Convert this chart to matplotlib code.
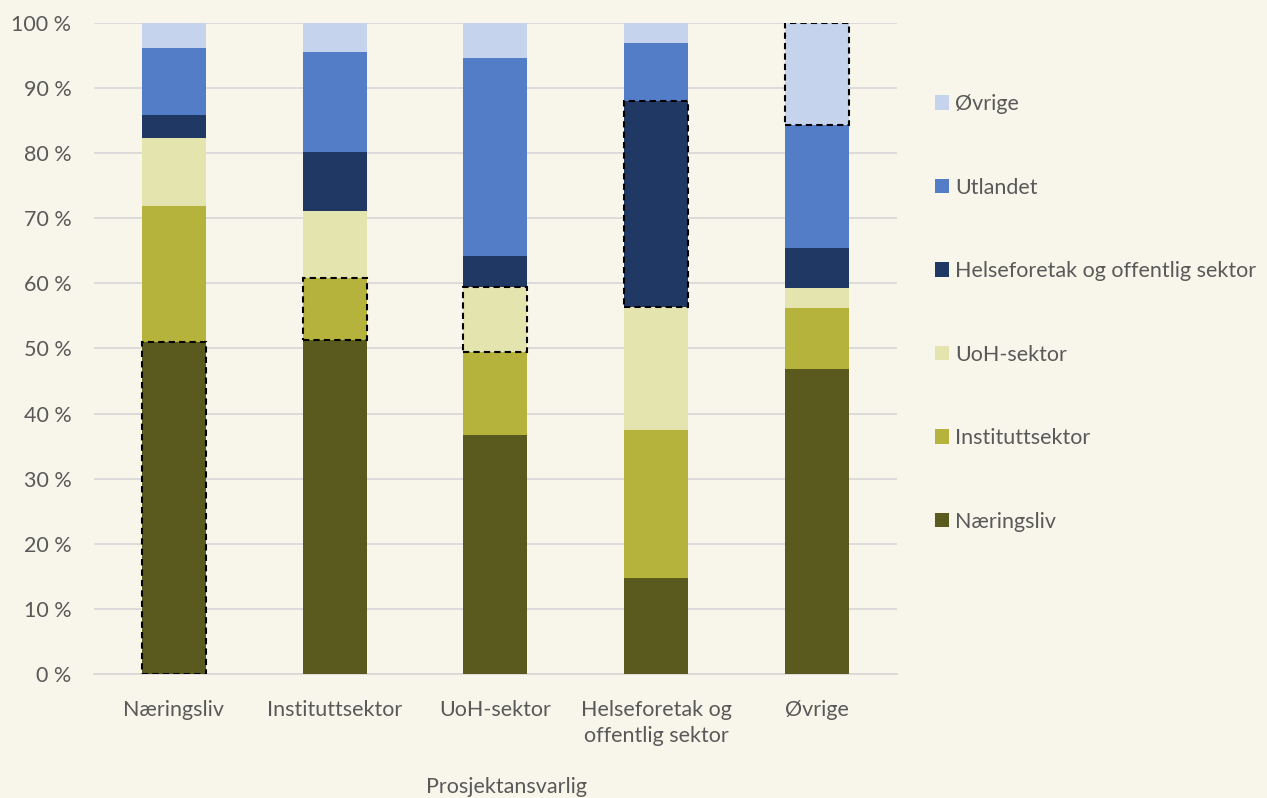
import numpy as np
import matplotlib.pyplot as plt
from matplotlib.patches import Patch

plt.rcParams['font.family'] = ['Lato', 'DejaVu Sans']

# data (share in %)
categories = ['Næringsliv', 'Instituttsektor', 'UoH-sektor',
              'Helseforetak og\noffentlig sektor', 'Øvrige']
series = ['Næringsliv', 'Instituttsektor', 'UoH-sektor',
          'Helseforetak og offentlig sektor', 'Utlandet', 'Øvrige']
naeringsliv = [51.0, 51.3, 36.7, 14.8, 46.8]
institutt = [20.9, 9.6, 12.7, 22.7, 9.4]
uoh = [10.5, 10.2, 10.0, 18.8, 3.1]
helse = [3.5, 9.1, 4.8, 31.7, 6.2]
utlandet = [10.2, 15.3, 30.4, 8.9, 18.8]
ovrige = [3.9, 4.5, 5.4, 3.1, 15.7]
# which segment in each bar is framed (own sector)
framed = [0, 1, 2, 3, 5]

colors = ['#5B5A1E', '#B6B33C', '#E4E4AE', '#203864', '#547DC8', '#C5D3EC']
bg = '#F8F6EA'
txt = '#595959'
fs = 15.5

fig = plt.figure(figsize=(12.67, 7.98), dpi=100, facecolor=bg)
ax = fig.add_axes([0.0739, 0.1554, 0.6341, 0.8158], facecolor=bg)

x = np.arange(len(categories))
vals = [naeringsliv, institutt, uoh, helse, utlandet, ovrige]
bottom = np.zeros(len(categories))
for k, v in enumerate(vals):
    v = np.array(v)
    bars = ax.bar(x, v, 0.40, bottom=bottom, color=colors[k], zorder=3,
                  edgecolor='none')
    for i, b in enumerate(bars):
        if framed[i] == k:
            b.set_edgecolor('black')
            b.set_linewidth(1.5)
            b.set_linestyle((0, (3, 2)))
            b.set_zorder(4)
    bottom += v

ax.set_xlim(-0.5, 4.5)
ax.set_ylim(0, 100)
ax.set_yticks(np.arange(0, 101, 10))
ax.set_yticklabels([f'{t} %' for t in range(0, 101, 10)])
ax.set_xticks(x)
ax.set_xticklabels(categories, linespacing=1.35)
ax.grid(axis='y', color='#D9D9D9', linewidth=1.3, zorder=0)
for s in ax.spines.values():
    s.set_visible(False)
ax.spines['bottom'].set_visible(True)
ax.spines['bottom'].set_color('#D9D9D9')
ax.spines['bottom'].set_linewidth(1.3)
ax.tick_params(axis='both', length=0, colors=txt, labelsize=fs)
ax.tick_params(axis='y', pad=16)
ax.tick_params(axis='x', pad=19)

fig.text(0.40, 0.014, 'Prosjektansvarlig', ha='center', va='center',
         fontsize=fs, color=txt)

handles = [Patch(facecolor=colors[k], edgecolor='none') for k in range(6)][::-1]
leg = fig.legend(handles, series[::-1], loc='center left',
                 bbox_to_anchor=(0.738, 0.608), frameon=False, fontsize=fs,
                 labelspacing=2.95, handlelength=0.65, handleheight=0.65,
                 handletextpad=0.3, borderpad=0, borderaxespad=0)
for t in leg.get_texts():
    t.set_color(txt)

fig.savefig('out.png', dpi=100, facecolor=bg)
